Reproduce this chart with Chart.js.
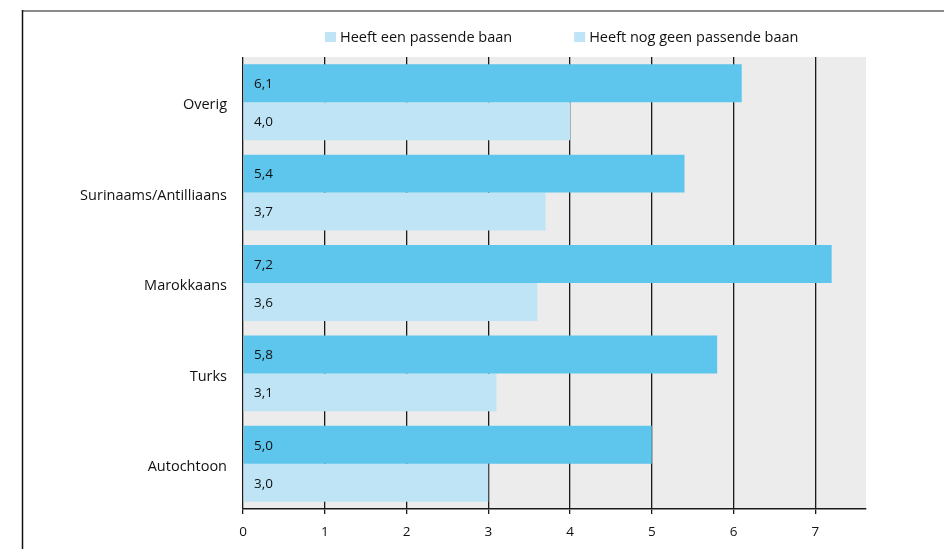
<!DOCTYPE html>
<html>
<head>
<meta charset="utf-8">
<script src="https://cdn.jsdelivr.net/npm/chart.js@4/dist/chart.umd.min.js"></script>
<style>
  html, body { margin: 0; padding: 0; background: #ffffff; }
  #wrap { width: 944px; height: 549px; position: relative; }
</style>
</head>
<body>
<div id="wrap"><canvas id="c" width="944" height="549"></canvas></div>
<script>
const categories = ['Overig', 'Surinaams/Antilliaans', 'Marokkaans', 'Turks', 'Autochtoon'];
const seriesLabels = ['Heeft een passende baan', 'Heeft nog geen passende baan'];
const welPassendeBaan = [4.0, 3.7, 3.6, 3.1, 3.0];
const nogGeenPassendeBaan = [6.1, 5.4, 7.2, 5.8, 5.0];
const xTickValues = [0, 1, 2, 3, 4, 5, 6, 7];

const DARK = '#5ec5ec';
const LIGHT = '#bee4f6';
const PLOT_BG = '#ebeceb';
const FONT = '"Open Sans", "DejaVu Sans", sans-serif';
const TEXT = '#111111';

const framePlugin = {
  id: 'frame',
  beforeDraw(chart) {
    const ctx = chart.ctx, a = chart.chartArea;
    ctx.save();
    ctx.fillStyle = '#ffffff';
    ctx.fillRect(0, 0, chart.width, chart.height);
    ctx.strokeStyle = '#8a8a8a';
    ctx.lineWidth = 2;
    ctx.beginPath();
    ctx.moveTo(22, 11);
    ctx.lineTo(chart.width, 11);
    ctx.stroke();
    ctx.strokeStyle = '#111111';
    ctx.lineWidth = 1.5;
    ctx.beginPath();
    ctx.moveTo(22.5, 10);
    ctx.lineTo(22.5, chart.height);
    ctx.stroke();
    ctx.fillStyle = PLOT_BG;
    ctx.fillRect(a.left, a.top, a.right - a.left, a.bottom - a.top);
    ctx.restore();
  }
};

const legendPlugin = {
  id: 'customLegend',
  afterDraw(chart) {
    const ctx = chart.ctx;
    ctx.save();
    ctx.font = '14.5px ' + FONT;
    ctx.textBaseline = 'middle';
    ctx.textAlign = 'left';
    let x = 325;
    const y = 37.5;
    // legend order: series with a passende baan first; both swatches shown light (as in source)
    const items = [chart.data.datasets[1].label, chart.data.datasets[0].label];
    items.forEach((label) => {
      ctx.fillStyle = LIGHT;
      ctx.fillRect(x, 32, 11, 10);
      ctx.fillStyle = TEXT;
      ctx.fillText(label, x + 15, y);
      x += 15 + ctx.measureText(label).width + 62;
    });
    ctx.restore();
  }
};

const valueLabelPlugin = {
  id: 'valueLabels',
  afterDatasetsDraw(chart) {
    const ctx = chart.ctx;
    ctx.save();
    ctx.font = '13.5px ' + FONT;
    ctx.fillStyle = TEXT;
    ctx.textBaseline = 'middle';
    ctx.textAlign = 'left';
    chart.data.datasets.forEach((ds, di) => {
      const meta = chart.getDatasetMeta(di);
      meta.data.forEach((bar, i) => {
        const txt = ds.data[i].toFixed(1).replace('.', ',');
        ctx.fillText(txt, chart.chartArea.left + 11, bar.y + 1);
      });
    });
    ctx.restore();
  }
};

new Chart(document.getElementById('c'), {
  type: 'bar',
  data: {
    labels: categories,
    datasets: [
      { label: seriesLabels[1], data: nogGeenPassendeBaan, backgroundColor: DARK, borderWidth: 0 },
      { label: seriesLabels[0], data: welPassendeBaan, backgroundColor: LIGHT, borderWidth: 0 }
    ]
  },
  options: {
    indexAxis: 'y',
    responsive: false,
    devicePixelRatio: 1,
    animation: false,
    events: [],
    categoryPercentage: 0.84,
    barPercentage: 1.0,
    layout: { padding: { top: 57, right: 78, bottom: 0, left: 0 } },
    plugins: {
      legend: { display: false },
      tooltip: { enabled: false }
    },
    scales: {
      x: {
        type: 'linear',
        min: 0,
        max: 7.62,
        z: 1,
        afterBuildTicks(scale) {
          scale.ticks = xTickValues.map(v => ({ value: v }));
        },
        afterFit(scale) { scale.height = 40; },
        grid: {
          color: '#1a1a1a',
          lineWidth: 1.3,
          drawTicks: true,
          tickLength: 5,
          tickColor: '#1a1a1a'
        },
        border: { display: true, color: '#1a1a1a', width: 1.5 },
        ticks: {
          color: TEXT,
          font: { family: FONT, size: 13.5 },
          padding: 10,
          maxRotation: 0,
          callback: (v) => String(v)
        }
      },
      y: {
        type: 'category',
        afterFit(scale) { scale.width = 243; },
        grid: { display: false, drawTicks: false },
        border: { display: false },
        ticks: {
          color: TEXT,
          font: { family: FONT, size: 14.5 },
          padding: 16,
          labelOffset: 3
        }
      }
    }
  },
  plugins: [framePlugin, valueLabelPlugin, legendPlugin]
});
</script>
</body>
</html>
